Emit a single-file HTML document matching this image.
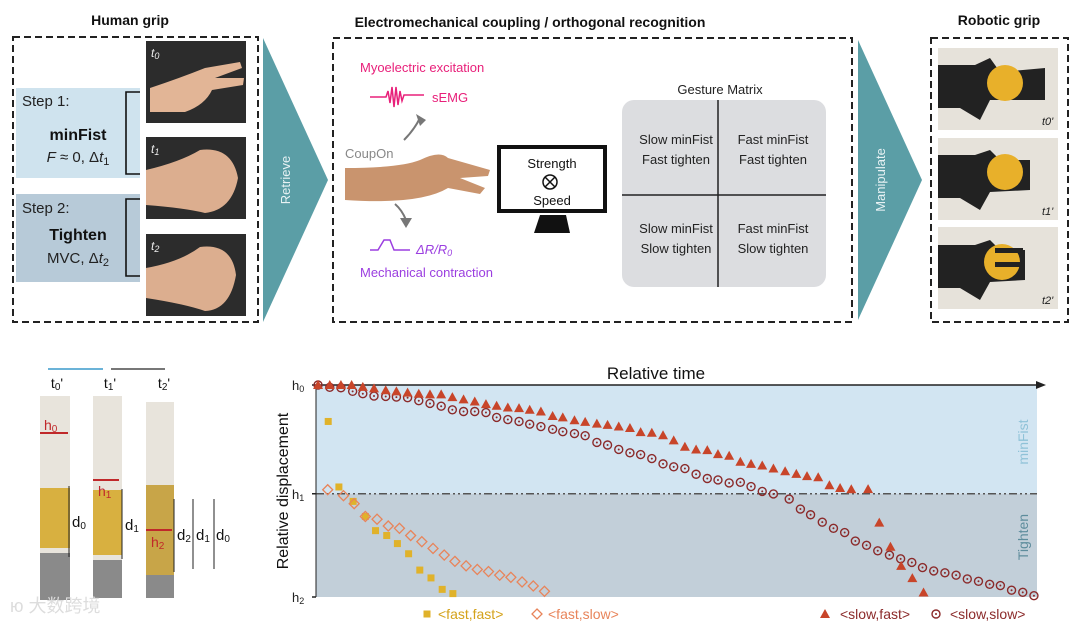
<!DOCTYPE html>
<html><head><meta charset="utf-8"><style>
html,body{margin:0;padding:0;background:#fff;}
body{width:1080px;height:624px;overflow:hidden;position:relative;font-family:"Liberation Sans","Noto Sans CJK SC",sans-serif;}
svg text{font-family:"Liberation Sans","Noto Sans CJK SC",sans-serif;}
</style></head><body>
<svg id="fig" width="1080" height="624" viewBox="0 0 1080 624" xmlns="http://www.w3.org/2000/svg">
<g>
<text x="130" y="25" text-anchor="middle" font-size="14" font-weight="bold" fill="#111">Human grip</text>
<rect x="13" y="37" width="245" height="285" fill="none" stroke="#222" stroke-width="2" stroke-dasharray="7,4"/>
<rect x="16" y="88" width="124" height="90" fill="#cfe3ee"/>
<rect x="16" y="194" width="124" height="88" fill="#b7cad8"/>
<text x="22" y="106" font-size="15" fill="#222">Step 1:</text>
<text x="78" y="140" text-anchor="middle" font-size="16" font-weight="bold" fill="#111">minFist</text>
<text x="78" y="162" text-anchor="middle" font-size="15" fill="#222"><tspan font-style="italic">F</tspan> ≈ 0, Δ<tspan font-style="italic">t</tspan><tspan font-size="11" dy="3">1</tspan></text>
<text x="22" y="213" font-size="15" fill="#222">Step 2:</text>
<text x="78" y="240" text-anchor="middle" font-size="16" font-weight="bold" fill="#111">Tighten</text>
<text x="78" y="263" text-anchor="middle" font-size="15" fill="#222">MVC, Δ<tspan font-style="italic">t</tspan><tspan font-size="11" dy="3">2</tspan></text>
<path d="M140,92 H126 V174 H140" fill="none" stroke="#111" stroke-width="1.6"/>
<path d="M140,199 H126 V276 H140" fill="none" stroke="#111" stroke-width="1.6"/>
<g>
<rect x="146" y="41" width="100" height="82" fill="#2c2c2c"/>
<path d="M150,88 Q180,78 205,68 L240,62 L242,68 L215,78 L244,78 L243,85 L212,90 Q205,105 185,112 L150,112 Z" fill="#e2b596"/>
<text x="151" y="57" font-size="12" font-style="italic" fill="#eee">t<tspan font-size="9" dy="2">0</tspan></text>
</g>
<g>
<rect x="146" y="137" width="100" height="82" fill="#2c2c2c"/>
<path d="M146,170 Q180,162 200,150 Q232,146 238,178 Q232,210 205,213 Q185,208 146,205 Z" fill="#dcae8f"/>
<text x="151" y="153" font-size="12" font-style="italic" fill="#eee">t<tspan font-size="9" dy="2">1</tspan></text>
</g>
<g>
<rect x="146" y="234" width="100" height="82" fill="#2c2c2c"/>
<path d="M146,268 Q180,262 200,247 Q232,243 236,275 Q230,310 205,311 Q185,304 146,298 Z" fill="#dcae8f"/>
<text x="151" y="250" font-size="12" font-style="italic" fill="#eee">t<tspan font-size="9" dy="2">2</tspan></text>
</g>
</g>
<g>
<polygon points="263,38 328,180 263,322" fill="#5b9ea6"/>
<text transform="translate(290,180) rotate(-90)" text-anchor="middle" font-size="13" fill="#e8f2f4">Retrieve</text>
</g>
<g>
<text x="530" y="27" text-anchor="middle" font-size="14" font-weight="bold" fill="#111">Electromechanical coupling / orthogonal recognition</text>
<rect x="333" y="38" width="519" height="284" fill="none" stroke="#222" stroke-width="2" stroke-dasharray="7,4"/>
<text x="360" y="72" font-size="13" fill="#e8207a">Myoelectric excitation</text>
<path d="M370,97 H386 l2,-6 l2,12 l2,-16 l2,20 l2,-20 l2,18 l2,-14 l2,10 l2,-6 H424" fill="none" stroke="#e8207a" stroke-width="1.5"/>
<text x="432" y="102" font-size="13" fill="#e8207a">sEMG</text>
<path d="M404,140 Q414,130 420,118" fill="none" stroke="#777" stroke-width="2"/>
<polygon points="416,114 426,120 420,126" fill="#777"/>
<text x="345" y="158" font-size="13" fill="#888">CoupOn</text>
<path d="M364,174 v-5 h18 v5" fill="none" stroke="#333" stroke-width="1"/>
<path d="M345,168 Q400,168 420,160 Q440,150 448,158 L490,170 L488,176 L460,178 L485,188 L480,194 L448,188 Q420,205 345,200 Z" fill="#c9946e"/>
<path d="M395,204 Q402,210 406,220" fill="none" stroke="#777" stroke-width="2"/>
<polygon points="400,218 412,218 406,228" fill="#777"/>
<path d="M370,250 H378 L384,240 H390 L394,250 H410" fill="none" stroke="#9b3ee0" stroke-width="1.5"/>
<text x="416" y="254" font-size="13" font-style="italic" fill="#9b3ee0">ΔR/R<tspan font-size="9" dy="2">0</tspan></text>
<text x="360" y="277" font-size="13" fill="#9b3ee0">Mechanical contraction</text>
<g>
<rect x="499" y="147" width="106" height="64" fill="#fff" stroke="#111" stroke-width="4"/>
<polygon points="540,215 566,215 570,233 534,233" fill="#111"/>
<text x="552" y="168" text-anchor="middle" font-size="13" fill="#111">Strength</text>
<circle cx="550" cy="182" r="7" fill="none" stroke="#111" stroke-width="1.5"/>
<path d="M545,177 l10,10 M555,177 l-10,10" stroke="#111" stroke-width="1.5"/>
<text x="552" y="205" text-anchor="middle" font-size="13" fill="#111">Speed</text>
</g>
<text x="720" y="94" text-anchor="middle" font-size="13" fill="#222">Gesture Matrix</text>
<rect x="622" y="100" width="204" height="187" rx="12" fill="#dcdde0"/>
<line x1="718" y1="100" x2="718" y2="287" stroke="#222" stroke-width="1.5"/>
<line x1="622" y1="195" x2="826" y2="195" stroke="#222" stroke-width="1.5"/>
<g font-size="13" fill="#222" text-anchor="middle">
<text x="676" y="144"><tspan x="676">Slow minFist</tspan><tspan x="676" dy="20">Fast tighten</tspan></text>
<text x="773" y="144"><tspan x="773">Fast minFist</tspan><tspan x="773" dy="20">Fast tighten</tspan></text>
<text x="676" y="233"><tspan x="676">Slow minFist</tspan><tspan x="676" dy="20">Slow tighten</tspan></text>
<text x="773" y="233"><tspan x="773">Fast minFist</tspan><tspan x="773" dy="20">Slow tighten</tspan></text>
</g>
</g>
<g>
<polygon points="858,40 922,180 858,320" fill="#5b9ea6"/>
<text transform="translate(885,180) rotate(-90)" text-anchor="middle" font-size="13" fill="#e8f2f4">Manipulate</text>
</g>
<g>
<text x="999" y="25" text-anchor="middle" font-size="14" font-weight="bold" fill="#111">Robotic grip</text>
<rect x="931" y="38" width="137" height="284" fill="none" stroke="#222" stroke-width="2" stroke-dasharray="7,4"/>
<g><rect x="938" y="48" width="120" height="82" fill="#e6e2da"/><path d="M938,65 H975 L990,58 L1000,72 L1045,68 L1045,100 L990,100 L980,120 L960,108 H938 Z" fill="#222"/><circle cx="1005" cy="83" r="18" fill="#e8b02a"/><text x="1042" y="125" font-size="11" font-style="italic" fill="#222">t0'</text></g>
<g><rect x="938" y="138" width="120" height="82" fill="#e6e2da"/><path d="M938,155 H975 L990,150 L1000,160 L1030,160 L1030,190 L990,192 L980,210 L960,198 H938 Z" fill="#222"/><circle cx="1005" cy="172" r="18" fill="#e8b02a"/><text x="1042" y="215" font-size="11" font-style="italic" fill="#222">t1'</text></g>
<g><rect x="938" y="227" width="120" height="82" fill="#e6e2da"/><path d="M938,245 H975 L990,240 L1000,250 L1025,250 L1025,280 L990,282 L980,300 L960,288 H938 Z" fill="#222"/><circle cx="1002" cy="262" r="18" fill="#e8b02a"/><rect x="995" y="248" width="28" height="5" fill="#222"/><rect x="995" y="262" width="28" height="5" fill="#222"/><text x="1042" y="304" font-size="11" font-style="italic" fill="#222">t2'</text></g>
</g>
<g>
<line x1="48" y1="369" x2="103" y2="369" stroke="#6bb3d8" stroke-width="2"/>
<line x1="111" y1="369" x2="165" y2="369" stroke="#777" stroke-width="2"/>
<text x="57" y="388" text-anchor="middle" font-size="14" fill="#111">t<tspan font-size="10" dy="2">0</tspan><tspan dy="-2">'</tspan></text>
<text x="110" y="388" text-anchor="middle" font-size="14" fill="#111">t<tspan font-size="10" dy="2">1</tspan><tspan dy="-2">'</tspan></text>
<text x="164" y="388" text-anchor="middle" font-size="14" fill="#111">t<tspan font-size="10" dy="2">2</tspan><tspan dy="-2">'</tspan></text>
<rect x="40" y="396" width="30" height="204" fill="#e8e4dc"/><rect x="40" y="488" width="30" height="60" fill="#d8b040"/><rect x="40" y="553" width="30" height="47" fill="#8a8a8a"/>
<rect x="93" y="396" width="29" height="202" fill="#e8e4dc"/><rect x="93" y="490" width="29" height="65" fill="#d8b040"/><rect x="93" y="560" width="29" height="38" fill="#8a8a8a"/>
<rect x="146" y="402" width="28" height="196" fill="#e8e4dc"/><rect x="146" y="485" width="28" height="90" fill="#c8a548"/><rect x="146" y="575" width="28" height="23" fill="#8a8a8a"/>
<line x1="40" y1="433" x2="68" y2="433" stroke="#c0282a" stroke-width="2"/><text x="44" y="430" font-size="14" fill="#c0282a">h<tspan font-size="10" dy="2">0</tspan></text>
<line x1="93" y1="480" x2="119" y2="480" stroke="#c0282a" stroke-width="2"/><text x="98" y="496" font-size="14" fill="#c0282a">h<tspan font-size="10" dy="2">1</tspan></text>
<line x1="146" y1="530" x2="172" y2="530" stroke="#c0282a" stroke-width="2"/><text x="151" y="547" font-size="14" fill="#c0282a">h<tspan font-size="10" dy="2">2</tspan></text>
<g stroke="#222" stroke-width="1"><line x1="69" y1="486" x2="69" y2="557"/><line x1="122" y1="489" x2="122" y2="559"/><line x1="174" y1="499" x2="174" y2="572"/><line x1="193" y1="499" x2="193" y2="569"/><line x1="214" y1="499" x2="214" y2="569"/></g>
<g font-size="15" fill="#111"><text x="72" y="527">d<tspan font-size="10" dy="2">0</tspan></text><text x="125" y="530">d<tspan font-size="10" dy="2">1</tspan></text><text x="177" y="540">d<tspan font-size="10" dy="2">2</tspan></text><text x="196" y="540">d<tspan font-size="10" dy="2">1</tspan></text><text x="216" y="540">d<tspan font-size="10" dy="2">0</tspan></text></g>
<text x="10" y="612" font-size="18" fill="#ddd">ю 大数跨境</text>
</g>
<g id="chart"></g>
</svg>
<script>
const ssTime=[4,27,49,72,92,114,137,158,180,202,224,246,268,290,312,334,355,377,399,420,442,465,485,508,529,552,573,595,617,638,660,682,703,725,747,769,790,812,834,855,877,899,930,952,972,995,1017,1039,1060,1082,1104,1127,1149,1171,1192,1214,1236,1258,1280,1302,1324,1345,1367,1389,1411];
const ssDisp=[0,1.1,1.3,3.0,4.1,5.2,5.4,5.7,6.0,7.4,8.7,10.0,11.7,12.5,12.5,13.0,15.3,16.3,17.2,18.5,19.6,20.9,22.0,22.9,23.9,27.1,28.3,30.4,32.0,32.8,34.7,37.2,38.6,39.4,42.1,44.1,44.8,46.2,45.9,47.9,50.2,51.4,53.8,58.5,61.2,64.7,67.6,69.6,73.6,75.6,78.2,80.2,82.0,83.7,86.1,87.7,88.6,89.7,91.5,92.6,94.0,94.6,96.8,97.8,99.4];
const sfTime=[4,27,49,70,92,114,137,158,180,202,224,246,268,290,312,334,355,377,399,420,442,465,485,508,529,552,573,595,617,638,660,682,703,725,747,769,790,812,834,855,877,899,922,944,965,987,1009,1030,1052,1085,1107,1129,1150,1172,1194];
const sfDisp=[0,0,0,0,0.9,1.6,2.5,3.0,3.6,4.1,4.4,4.4,5.7,6.8,7.8,9.0,9.8,10.6,10.9,11.7,12.5,14.6,15.3,16.6,17.4,18.2,18.8,19.6,20.3,22.2,22.5,23.7,26.1,29.1,30.4,30.7,32.6,33.4,36.2,37.2,38.0,39.4,40.7,41.9,43.0,43.5,47.3,48.6,49.2,49.1,64.9,76.3,85.3,91.1,97.9];
const ffTime=[24,45,73,97,117,139,160,182,204,226,248,269];
const ffDisp=[17.2,48.1,54.9,62.0,68.7,71.0,74.8,79.6,87.3,91.0,96.4,98.4];
const fsTime=[23,54,75,97,120,142,164,186,208,230,252,273,295,317,339,361,383,405,427,449];
const fsDisp=[49.4,52.2,56.0,62.0,63.3,66.5,67.6,71.0,73.9,77.1,80.2,83.2,85.3,87.0,88.0,89.7,90.7,92.9,94.8,97.3];
const yTickVals=[0,51.3,100];
const yTickLabels=['h0','h1','h2'];
const tMax=1417;

const NS='http://www.w3.org/2000/svg';
const chart=document.getElementById('chart');
const X0=316,X1=1037,XA=1046,Y0=385,Y1=597;
const xs=t=>X0+t/tMax*(X1-X0);
const ys=d=>Y0+d/100*(Y1-Y0);
function mk(tag,attrs,parent){const e=document.createElementNS(NS,tag);for(const k in attrs)e.setAttribute(k,attrs[k]);(parent||chart).appendChild(e);return e;}

let e;
e=mk('rect',{x:X0,y:Y0,width:X1-X0,height:ys(yTickVals[1])-Y0,fill:'#d2e5f2'});


e=mk('rect',{x:X0,y:ys(yTickVals[1]),width:X1-X0,height:Y1-ys(yTickVals[1]),fill:'#c2cfd9'});


e=mk('line',{x1:X0,y1:ys(yTickVals[1]),x2:X1,y2:ys(yTickVals[1]),stroke:'#555','stroke-width':1.5,'stroke-dasharray':'8,3,2,3,2,3'});


e=mk('line',{x1:X0,y1:Y0,x2:XA-8,y2:Y0,stroke:'#222','stroke-width':1.5});


e=mk('polygon',{points:`${XA-10},${Y0-4} ${XA},${Y0} ${XA-10},${Y0+4}`,fill:'#222'});


e=mk('line',{x1:X0,y1:Y0,x2:X0,y2:Y1,stroke:'#222','stroke-width':1});


e=mk('text',{x:656,y:379,'text-anchor':'middle','font-size':17,fill:'#111'});
e.textContent='Relative time';


e=mk('text',{transform:'translate(288,491) rotate(-90)','text-anchor':'middle','font-size':16,fill:'#111'});
e.textContent='Relative displacement';


yTickVals.forEach((v,i)=>{
  const t=mk('text',{x:292,y:ys(v)+5,'font-size':13,fill:'#222'});
  t.innerHTML=yTickLabels[i][0]+'<tspan font-size="9" dy="2">'+yTickLabels[i].slice(1)+'</tspan>';
  
  
  const l=mk('line',{x1:X0-4,y1:ys(v),x2:X0,y2:ys(v),stroke:'#222','stroke-width':1.5});
  
  
});
e=mk('text',{transform:'translate(1028,442) rotate(-90)','text-anchor':'middle','font-size':14,fill:'#8fc2d8'});
e.textContent='minFist';


e=mk('text',{transform:'translate(1028,537) rotate(-90)','text-anchor':'middle','font-size':14,fill:'#5d8c9c'});
e.textContent='Tighten';



function circleMark(x,y,g){mk('circle',{cx:x,cy:y,r:4,fill:'none',stroke:'#8b2a2a','stroke-width':1.4},g);mk('circle',{cx:x,cy:y,r:1,fill:'#8b2a2a'},g);}
function triMark(x,y,g){mk('polygon',{points:`${x-5},${y+4} ${x+5},${y+4} ${x},${y-5}`,fill:'#c8452a'},g);}
function sqMark(x,y,g){mk('rect',{x:x-3.5,y:y-3.5,width:7,height:7,fill:'#e0b22a'},g);}
function diaMark(x,y,g){mk('polygon',{points:`${x},${y-5} ${x+5},${y} ${x},${y+5} ${x-5},${y}`,fill:'none',stroke:'#e8845a','stroke-width':1.3},g);}

let g=mk('g',{});


ssTime.forEach((t,i)=>circleMark(xs(t),ys(ssDisp[i]),g));
g=mk('g',{});


sfTime.forEach((t,i)=>triMark(xs(t),ys(sfDisp[i]),g));
g=mk('g',{});


ffTime.forEach((t,i)=>sqMark(xs(t),ys(ffDisp[i]),g));
g=mk('g',{});


fsTime.forEach((t,i)=>diaMark(xs(t),ys(fsDisp[i]),g));

g=mk('g',{});


sqMark(427,614,g);
e=mk('text',{x:438,y:619,'font-size':14,fill:'#d4a21a'},g);e.textContent='<fast,fast>';


diaMark(537,614,g);
e=mk('text',{x:548,y:619,'font-size':14,fill:'#e8845a'},g);e.textContent='<fast,slow>';


triMark(825,614,g);
e=mk('text',{x:840,y:619,'font-size':14,fill:'#8b2a2a'},g);e.textContent='<slow,fast>';


circleMark(936,614,g);
e=mk('text',{x:950,y:619,'font-size':14,fill:'#8b2a2a'},g);e.textContent='<slow,slow>';


</script>
</body></html>
